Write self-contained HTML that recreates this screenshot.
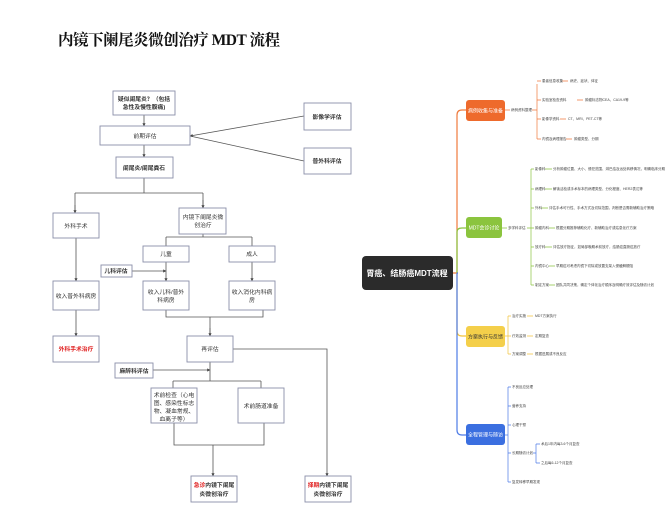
<!DOCTYPE html>
<html><head><meta charset="utf-8"><style>
body{margin:0;background:#fff}
svg{display:block}
text{font-family:"Liberation Sans","Noto Sans CJK SC",sans-serif}
</style></head><body>
<svg width="668" height="528" viewBox="0 0 668 528" xmlns="http://www.w3.org/2000/svg">
<defs><marker id="a" markerWidth="4" markerHeight="4" refX="3.5" refY="2" orient="auto"><path d="M0,0L4,2L0,4z" fill="#444"/></marker></defs>
<text x="58" y="45" font-size="15.5" font-weight="bold" style="font-family:'Liberation Serif','Noto Serif CJK SC',serif" fill="#111" textLength="222">内镜下阑尾炎微创治疗 MDT 流程</text>
<g stroke="#555" stroke-width="0.8" fill="none">
<path d="M144 115V126" marker-end="url(#a)"/>
<path d="M304 116L190 136" marker-end="url(#a)"/>
<path d="M304 161L190 136"/>
<path d="M144 145V157" marker-end="url(#a)"/>
<path d="M144 178V193M75 193H203M75 193V213M203 193V208" />
<path d="M75 205V213" marker-end="url(#a)"/><path d="M203 200V208" marker-end="url(#a)"/>
<path d="M203 234V237M166 237H252M166 237V246M252 237V246"/>
<path d="M76 238V281" marker-end="url(#a)"/>
<path d="M166 262V281" marker-end="url(#a)"/>
<path d="M252 262V281" marker-end="url(#a)"/>
<path d="M132 271H166" marker-end="url(#a)"/>
<path d="M76 310V336" marker-end="url(#a)"/>
<path d="M166 310V317H263V310M210 317V336" />
<path d="M210 328V336" marker-end="url(#a)"/>
<path d="M233 349H327V476" marker-end="url(#a)"/>
<path d="M153 370H210" marker-end="url(#a)"/>
<path d="M210 362V381M173 381H261M173 381V388M261 381V388"/>
<path d="M174 423V445H264V423M213 445V476" marker-end="url(#a)"/>
</g>
<g stroke="#8a8fa8" stroke-width="0.9" fill="#fff">
<rect x="113" y="91" width="62" height="24"/>
<rect x="100" y="126" width="90" height="19"/>
<rect x="304" y="103" width="47" height="27"/>
<rect x="304" y="148" width="47" height="26"/>
<rect x="116" y="157" width="57" height="21"/>
<rect x="53" y="213" width="46" height="25"/>
<rect x="179" y="208" width="47" height="26"/>
<rect x="143" y="246" width="46" height="16"/>
<rect x="229" y="246" width="46" height="16"/>
<rect x="101" y="265" width="31" height="12"/>
<rect x="53" y="281" width="46" height="29"/>
<rect x="143" y="281" width="46" height="29"/>
<rect x="229" y="281" width="46" height="29"/>
<rect x="53" y="336" width="46" height="26"/>
<rect x="187" y="336" width="46" height="26"/>
<rect x="115" y="363" width="38" height="15"/>
<rect x="151" y="388" width="46" height="35"/>
<rect x="238" y="388" width="46" height="35"/>
<rect x="191" y="476" width="46" height="26"/>
<rect x="305" y="476" width="46" height="26"/>
</g>
<g font-size="5.8" fill="#333" text-anchor="middle">
<text x="144" y="101" font-weight="bold">疑似阑尾炎？（包括</text>
<text x="144" y="109" font-weight="bold">急性及慢性腹痛)</text>
<text x="145" y="138">前期评估</text>
<text x="327" y="119" font-weight="bold">影像学评估</text>
<text x="327" y="163" font-weight="bold">普外科评估</text>
<text x="144" y="170" font-weight="bold">阑尾炎/阑尾粪石</text>
<text x="76" y="228">外科手术</text>
<text x="203" y="219">内镜下阑尾炎微</text>
<text x="203" y="227">创治疗</text>
<text x="166" y="256">儿童</text>
<text x="252" y="256">成人</text>
<text x="116" y="273" font-weight="bold">儿科评估</text>
<text x="76" y="298">收入普外科病房</text>
<text x="166" y="294">收入儿科/普外</text>
<text x="166" y="302">科病房</text>
<text x="252" y="294">收入消化内科病</text>
<text x="252" y="302">房</text>
<text x="76" y="351" font-weight="bold" fill="#e02020">外科手术治疗</text>
<text x="210" y="351">再评估</text>
<text x="134" y="373" font-weight="bold">麻醉科评估</text>
<text x="174" y="397">术前检查（心电</text>
<text x="174" y="405">图、感染性标志</text>
<text x="174" y="413">物、凝血常规、</text>
<text x="174" y="421">血离子等）</text>
<text x="261" y="408">术前肠道准备</text>
<text x="214" y="487" font-weight="bold"><tspan fill="#e02020">急诊</tspan>内镜下阑尾</text>
<text x="214" y="496" font-weight="bold">炎微创治疗</text>
<text x="328" y="487" font-weight="bold"><tspan fill="#e02020">择期</tspan>内镜下阑尾</text>
<text x="328" y="496" font-weight="bold">炎微创治疗</text>
</g>
<!-- mind map -->
<g fill="none" stroke-width="1.2">
<path d="M453 273H457M457 273V115Q457 110 462 110H466" stroke="#ef7a3c"/>
<path d="M457 273V232Q457 228 462 228H466" stroke="#8ac440"/>
<path d="M457 273V331Q457 336 462 336H466" stroke="#f2c23c"/>
<path d="M457 273H458M457 273V430Q457 435 462 435H466" stroke="#4d7be6"/>
</g>
<rect x="362" y="256" width="91" height="34" rx="4" fill="#2b2b2b"/>
<text x="407" y="276" font-size="8" fill="#fff" text-anchor="middle" font-weight="bold">胃癌、结肠癌MDT流程</text>
<rect x="466" y="100" width="39" height="21" rx="3" fill="#ee6a2c"/>
<text x="485.5" y="112.5" font-size="5" fill="#fff" text-anchor="middle">病例收集与准备</text>
<rect x="466" y="217" width="36" height="21" rx="3" fill="#8bc43e"/>
<text x="484" y="229.5" font-size="5" fill="#fff" text-anchor="middle">MDT会诊讨论</text>
<rect x="466" y="326" width="39" height="21" rx="3" fill="#f4cf4a"/>
<text x="485.5" y="338.5" font-size="5" fill="#333" text-anchor="middle">方案执行与反馈</text>
<rect x="466" y="424" width="39" height="21" rx="3" fill="#3b6fe0"/>
<text x="485.5" y="436.5" font-size="5" fill="#fff" text-anchor="middle">全程管理与随访</text>
<g font-size="3.5" fill="#444">
<path d="M505 110H510M532 110H537M537 84V139" stroke="#ef7a3c" stroke-width="0.7" fill="none"/>
<text x="511" y="111">病例资料整理</text>
<g stroke="#ef7a3c" stroke-width="0.7"><path d="M537 81H541M562 81H568M537 100H541M577 100H583M537 119H541M560 119H566M537 139H541M566 139H572"/></g>
<text x="542" y="82">患者信息收集</text><text x="570" y="82">病史、症状、体征</text>
<text x="542" y="101">实验室检查资料</text><text x="585" y="101">肿瘤标志物CEA、CA19-9等</text>
<text x="542" y="120">影像学资料</text><text x="568" y="120">CT、MRI、PET-CT等</text>
<text x="542" y="140">内镜及病理报告</text><text x="574" y="140">肿瘤类型、分期</text>

<path d="M502 228H507M527 228H531M531 169V285" stroke="#8ac440" stroke-width="0.7" fill="none"/>
<text x="508" y="229">多学科评估</text>
<g stroke="#8ac440" stroke-width="0.7"><path d="M531 169H534M545 169H552M531 189H534M545 189H552M531 208H534M541 208H548M531 228H534M549 228H555M531 247H534M545 247H552M531 266H534M549 266H555M531 285H534M549 285H555"/></g>
<text x="535" y="170">影像科</text><text x="553" y="170">分析肿瘤位置、大小、侵犯范围、淋巴结及远处转移情况，明确临床分期</text>
<text x="535" y="190">病理科</text><text x="553" y="190">解读活检或手术标本的病理类型、分化程度、HER2表达等</text>
<text x="535" y="209">外科</text><text x="549" y="209">评估手术可行性、手术方式及切除范围，判断是否需新辅助治疗策略</text>
<text x="535" y="229">肿瘤内科</text><text x="556" y="229">根据分期推荐辅助化疗、新辅助治疗或姑息化疗方案</text>
<text x="535" y="248">放疗科</text><text x="553" y="248">评估放疗指征，如局部晚期术前放疗，结肠癌直肠癌放疗</text>
<text x="535" y="267">内镜中心</text><text x="556" y="267">早期癌可考虑内镜下切除或放置支架入侵缓解梗阻</text>
<text x="535" y="286">制定方案</text><text x="556" y="286">团队共同决策，确定个体化治疗顺序及明确疗效评估及随访计划</text>

<path d="M505 336H508M508 316V354" stroke="#f2c23c" stroke-width="0.7" fill="none"/>
<g stroke="#f2c23c" stroke-width="0.7"><path d="M508 316H511M527 316H533M508 336H511M527 336H533M508 354H511M527 354H533"/></g>
<text x="512" y="317">治疗实施</text><text x="535" y="317">MDT方案执行</text>
<text x="512" y="337">疗效监测</text><text x="535" y="337">定期复查</text>
<text x="512" y="355">方案调整</text><text x="535" y="355">根据进展或不良反应</text>

<path d="M505 435H508M508 387V482" stroke="#4d7be6" stroke-width="0.7" fill="none"/>
<g stroke="#4d7be6" stroke-width="0.7"><path d="M508 387H511M508 406H511M508 425H511M508 453H511M508 482H511M533 453H536M536 444V463M536 444H540M536 463H540"/></g>
<text x="512" y="388">不良反应处理</text>
<text x="512" y="407">营养支持</text>
<text x="512" y="426">心理干预</text>
<text x="512" y="454">长期随访计划</text>
<text x="541" y="445">术后1年内每3-6个月复查</text>
<text x="541" y="464">之后每6-12个月复查</text>
<text x="512" y="483">复发转移早期发现</text>
</g>
</svg>
</body></html>
